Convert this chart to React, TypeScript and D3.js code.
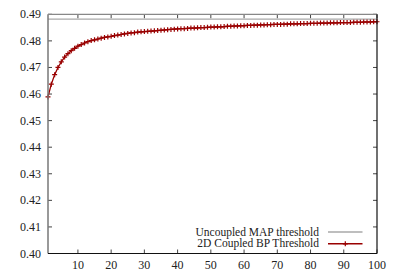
import React from 'react';
import * as d3 from 'd3';

// coupling length L
const lengths = d3.range(1, 101);

// 2D coupled BP threshold
const bpThreshold = [
  0.4589, 0.4637, 0.4673, 0.4700, 0.4721, 0.4739, 0.4752, 0.4763, 0.4772, 0.4780,
  0.4786, 0.4792, 0.4797, 0.4801, 0.4804, 0.4807, 0.4810, 0.4813, 0.4815, 0.4817,
  0.4820, 0.4822, 0.4824, 0.4826, 0.4828, 0.4830, 0.4831, 0.4833, 0.4834, 0.4835,
  0.4836, 0.4837, 0.4838, 0.4839, 0.4840, 0.4841, 0.4842, 0.4843, 0.4844, 0.4845,
  0.4846, 0.4846, 0.4847, 0.4848, 0.4848, 0.4849, 0.4850, 0.4850, 0.4851, 0.4852,
  0.4852, 0.4853, 0.4853, 0.4854, 0.4855, 0.4855, 0.4856, 0.4856, 0.4857, 0.4857,
  0.4858, 0.4858, 0.4859, 0.4859, 0.4860, 0.4860, 0.4861, 0.4861, 0.4862, 0.4862,
  0.4862, 0.4863, 0.4863, 0.4864, 0.4864, 0.4864, 0.4865, 0.4865, 0.4865, 0.4866,
  0.4866, 0.4866, 0.4867, 0.4867, 0.4867, 0.4868, 0.4868, 0.4868, 0.4869, 0.4869,
  0.4869, 0.4869, 0.4870, 0.4870, 0.4870, 0.4871, 0.4871, 0.4871, 0.4872, 0.4872,
];

const mapThreshold = 0.4882;

const xTicks = [10, 20, 30, 40, 50, 60, 70, 80, 90, 100];
const yTicks = [0.40, 0.41, 0.42, 0.43, 0.44, 0.45, 0.46, 0.47, 0.48, 0.49];

const legendLabels = ['Uncoupled MAP threshold', '2D Coupled BP Threshold'];

const W = 399;
const H = 278;
const left = 48, right = 377, top = 14.3, bottom = 253.5;
const font = "'Liberation Serif', 'Times New Roman', 'DejaVu Serif', serif";
const red = '#990000';

export default function App() {
  const x = d3.scaleLinear().domain([1, 100]).range([left, right]);
  const y = d3.scaleLinear().domain([0.40, 0.49]).range([bottom, top]);

  const pts = lengths.map((l, i) => ({ l, v: bpThreshold[i] }));
  const line = d3.line<{ l: number; v: number }>().x((d) => x(d.l)).y((d) => y(d.v));

  const plus = (cx: number, cy: number, key: string | number, s = 2.5) => (
    <path key={key} d={`M${cx - s},${cy}H${cx + s}M${cx},${cy - s}V${cy + s}`}
      stroke={red} strokeWidth={1.2} />
  );

  const txt = { fontFamily: font, fontSize: 12, fill: '#222' };
  const legendTxt = { ...txt, fontSize: 11.5 };

  return (
    <svg width={W} height={H} style={{ position: 'absolute', left: 0, top: 0, background: '#fff' }}>
      {/* ticks */}
      {xTicks.map((t) => (
        <g key={'x' + t}>
          <line x1={x(t)} x2={x(t)} y1={bottom} y2={bottom - 4} stroke="#444" />
          <line x1={x(t)} x2={x(t)} y1={top} y2={top + 4} stroke="#444" />
          <text x={x(t)} y={269} textAnchor="middle" style={txt}>{t}</text>
        </g>
      ))}
      {yTicks.map((t) => (
        <g key={'y' + t}>
          <line x1={left} x2={left + 4} y1={y(t)} y2={y(t)} stroke="#444" />
          <line x1={right} x2={right - 4} y1={y(t)} y2={y(t)} stroke="#444" />
          <text x={41} y={y(t) + 4} textAnchor="end" style={txt}>{t.toFixed(2)}</text>
        </g>
      ))}

      {/* MAP threshold */}
      <line x1={left} x2={right} y1={y(mapThreshold)} y2={y(mapThreshold)} stroke="#a8a8a8" strokeWidth={1.3} />

      {/* BP threshold curve */}
      <path d={line(pts) ?? ''} fill="none" stroke={red} strokeWidth={1.3} />
      {pts.map((d, i) => plus(x(d.l), y(d.v), i))}

      {/* border */}
      <line x1={left} x2={left} y1={top} y2={bottom} stroke="#777" strokeWidth={1.5} />
      <line x1={left} x2={right} y1={top} y2={top} stroke="#888" strokeWidth={1.3} />
      <line x1={left} x2={right} y1={bottom} y2={bottom} stroke="#111" strokeWidth={1.2} />
      <line x1={right} x2={right} y1={top} y2={bottom} stroke="#111" strokeWidth={1.2} />

      {/* legend */}
      <text x={319} y={235.5} textAnchor="end" style={legendTxt}>{legendLabels[0]}</text>
      <line x1={328} x2={362.5} y1={232} y2={232} stroke="#a8a8a8" strokeWidth={1.5} />
      <text x={319} y={247.2} textAnchor="end" style={legendTxt}>{legendLabels[1]}</text>
      <line x1={328} x2={362.5} y1={243.8} y2={243.8} stroke={red} strokeWidth={1.5} />
      {plus(345.3, 243.8, 'lg')}
    </svg>
  );
}
